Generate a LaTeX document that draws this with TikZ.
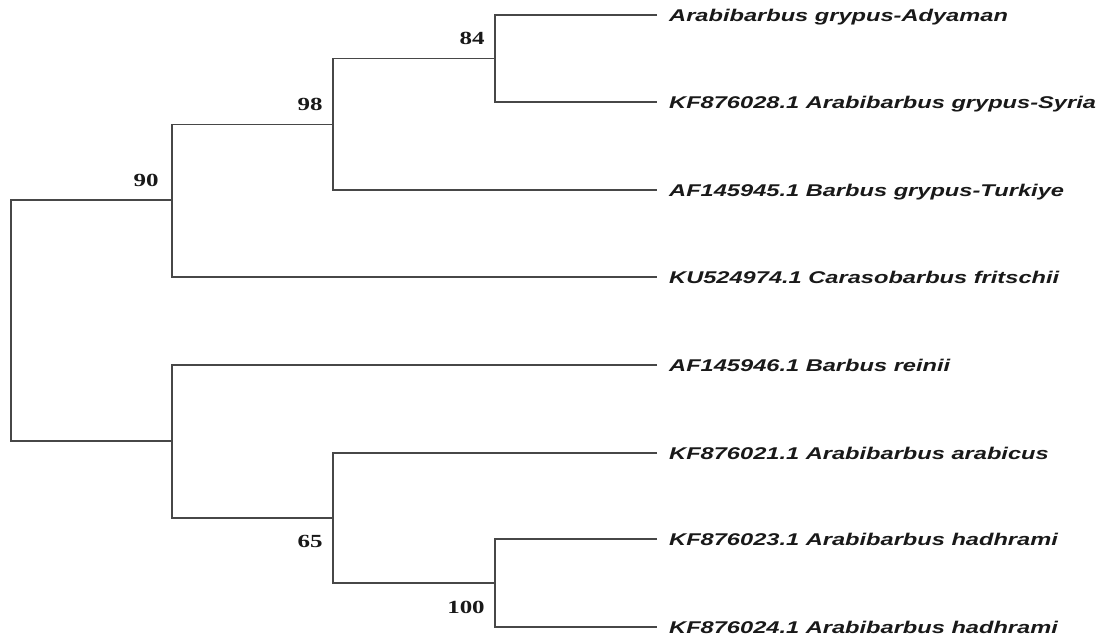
\documentclass[tikz,border=0pt]{standalone}
\usepackage{fontspec}
\newfontfamily\leaffont[FakeStretch=1.39]{Liberation Sans}
\newfontfamily\bootfont[FakeStretch=1.35]{Liberation Serif}
\begin{document}
\begin{tikzpicture}[x=1pt,y=-1pt,
  branch/.style={draw=black!72,line width=1.3pt},
  leaflabel/.style={anchor=base west,inner sep=0pt,text=black!90,
    font=\leaffont\bfseries\itshape\fontsize{17}{20}\selectfont},
  boot/.style={anchor=center,inner sep=0pt,text=black!90,
    font=\bootfont\bfseries\fontsize{18.5}{22}\selectfont}]
\useasboundingbox (0,0) rectangle (1098,644);
\fill[white] (0,0) rectangle (1098,644);
% internal nodes
\coordinate (R) at (11,320.5);
\coordinate (U) at (172,200);
\coordinate (n98) at (333,124.5);
\coordinate (n84) at (495,58.5);
\coordinate (L) at (172,441);
\coordinate (n65) at (333,518);
\coordinate (n100) at (495,583);
% leaf ends
\coordinate (l1) at (657,15);
\coordinate (l2) at (657,102);
\coordinate (l3) at (657,190);
\coordinate (l4) at (657,277);
\coordinate (l5) at (657,365);
\coordinate (l6) at (657,453);
\coordinate (l7) at (657,539);
\coordinate (l8) at (657,627);
% branches
\draw[branch] (U) -| (R) |- (L);
\draw[branch] (n98) -| (U) |- (l4);
\draw[branch] (n84) -| (n98) |- (l3);
\draw[branch] (l1) -| (n84) |- (l2);
\draw[branch] (l5) -| (L) |- (n65);
\draw[branch] (l6) -| (n65) |- (n100);
\draw[branch] (l7) -| (n100) |- (l8);
% leaf labels
\node[leaflabel] (t1) at (669,21.1) {Arabibarbus grypus-Adyaman};
\node[leaflabel] (t2) at (669,108.1) {KF876028.1 Arabibarbus grypus-Syria};
\node[leaflabel] (t3) at (669,196.1) {AF145945.1 Barbus grypus-Turkiye};
\node[leaflabel] (t4) at (669,283.1) {KU524974.1 Carasobarbus fritschii};
\node[leaflabel] (t5) at (669,371.1) {AF145946.1 Barbus reinii};
\node[leaflabel] (t6) at (669,459.1) {KF876021.1 Arabibarbus arabicus};
\node[leaflabel] (t7) at (669,545.1) {KF876023.1 Arabibarbus hadhrami};
\node[leaflabel] (t8) at (669,633.1) {KF876024.1 Arabibarbus hadhrami};
% bootstrap values
\node[boot] (b84) at (472,38.5) {84};
\node[boot] (b98) at (310,104) {98};
\node[boot] (b90) at (146,180) {90};
\node[boot] (b65) at (310,541) {65};
\node[boot] (b100) at (466,607) {100};
\end{tikzpicture}
\end{document}
